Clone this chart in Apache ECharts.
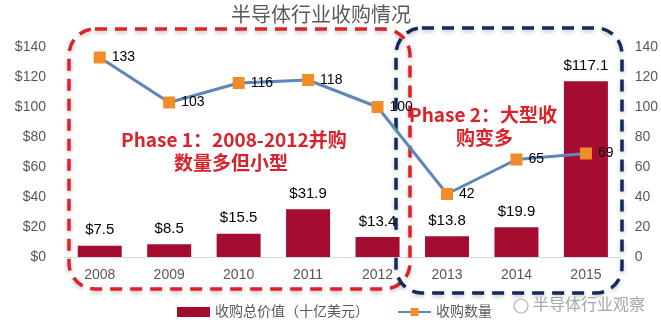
<!DOCTYPE html>
<html><head><meta charset="utf-8">
<script src="https://cdn.jsdelivr.net/npm/echarts@6/dist/echarts.min.js"></script>
<style>html,body{margin:0;padding:0;background:#fff}#c{width:661px;height:333px}</style>
</head><body><div id="c"></div>
<script>
const categories = ['2008','2009','2010','2011','2012','2013','2014','2015'];
const valueSeries = [7.5, 8.5, 15.5, 31.9, 13.4, 13.8, 19.9, 117.1];
const countSeries = [133, 103, 116, 118, 100, 42, 65, 69];
const leftTicks = ['$0','$20','$40','$60','$80','$100','$120','$140'];
const titleText = '半导体行业收购情况';
const barName = '收购总价值（十亿美元）';
const lineName = '收购数量';
const phase1 = ['Phase 1：2008-2012并购', '数量多但小型'];
const phase2 = ['Phase 2：大型收', '购变多'];
const watermark = '半导体行业观察';

const cjk = '"Liberation Sans", "Noto Sans CJK SC", sans-serif';
const chart = echarts.init(document.getElementById('c'));
chart.setOption({
  animation: false,
  title: { text: titleText, left: 226, top: 1, textStyle: { fontFamily: cjk, fontSize: 20, fontWeight: 'normal', color: '#595959' } },
  grid: { left: 65, right: 36, top: 47, bottom: 76 },
  xAxis: { type: 'category', data: categories,
    axisLine: { lineStyle: { color: '#d9d9d9' } }, axisTick: { show: false },
    axisLabel: { color: '#595959', fontSize: 14, fontFamily: cjk, margin: 11 } },
  yAxis: [
    { type: 'value', min: 0, max: 140, interval: 20, splitLine: { show: false },
      axisLabel: { color: '#595959', fontSize: 14, fontFamily: cjk, margin: 19, formatter: v => leftTicks[v / 20] } },
    { type: 'value', min: 0, max: 140, interval: 20, splitLine: { show: false },
      axisLabel: { color: '#595959', fontSize: 14, fontFamily: cjk, margin: 14 } }
  ],
  legend: { bottom: 9, left: 172, itemGap: 28, itemWidth: 33, itemHeight: 10,
    textStyle: { fontFamily: cjk, fontSize: 14, color: '#595959' },
    data: [{ name: barName, icon: 'rect' }, { name: lineName }] },
  graphic: [
    { type: 'rect', shape: { x: 69, y: 29, width: 341, height: 260, r: 26 }, z: 1,
      style: { fill: 'none', stroke: '#e0202b', lineWidth: 3.5, lineDash: [12, 8], shadowBlur: 4, shadowColor: 'rgba(0,0,0,0.25)', shadowOffsetY: 2 } },
    { type: 'rect', shape: { x: 396, y: 28, width: 226, height: 265, r: 26 }, z: 1,
      style: { fill: 'none', stroke: '#14295a', lineWidth: 3.5, lineDash: [12, 8], shadowBlur: 4, shadowColor: 'rgba(0,0,0,0.25)', shadowOffsetY: 2 } },
    { type: 'text', left: 121, top: 130, z: 10, style: { text: phase1[0], fill: '#d9222a', font: 'bold 19px "Noto Sans CJK SC", sans-serif' } },
    { type: 'text', left: 174, top: 153, z: 10, style: { text: phase1[1], fill: '#d9222a', font: 'bold 19px "Noto Sans CJK SC", sans-serif' } },
    { type: 'text', left: 409, top: 105, z: 10, style: { text: phase2[0], fill: '#d9222a', font: 'bold 19px "Noto Sans CJK SC", sans-serif' } },
    { type: 'text', left: 456, top: 128, z: 10, style: { text: phase2[1], fill: '#d9222a', font: 'bold 19px "Noto Sans CJK SC", sans-serif' } },
    { type: 'text', left: 533, top: 296, z: 10, style: { text: watermark, fill: '#a6a6a6', font: '16px "Noto Sans CJK SC", sans-serif' } },
    { type: 'circle', shape: { cx: 521, cy: 306, r: 7 }, z: 10, style: { fill: 'none', stroke: '#b0b0b0', lineWidth: 1.2 } }
  ],
  series: [
    { name: barName, type: 'bar', data: valueSeries, barWidth: 44, yAxisIndex: 0,
      itemStyle: { color: '#a50d30' },
      label: { show: true, position: 'top', distance: 8, color: '#000', fontSize: 15, fontFamily: cjk, formatter: p => '$' + p.value.toFixed(1) } },
    { name: lineName, type: 'line', data: countSeries, yAxisIndex: 1, z: 5,
      lineStyle: { color: '#5b87b9', width: 3 }, itemStyle: { color: '#f28c28' },
      symbol: 'rect', symbolSize: 12,
      label: { show: true, position: 'right', distance: 6, color: '#000', fontSize: 14, fontFamily: cjk } }
  ]
});
</script></body></html>
